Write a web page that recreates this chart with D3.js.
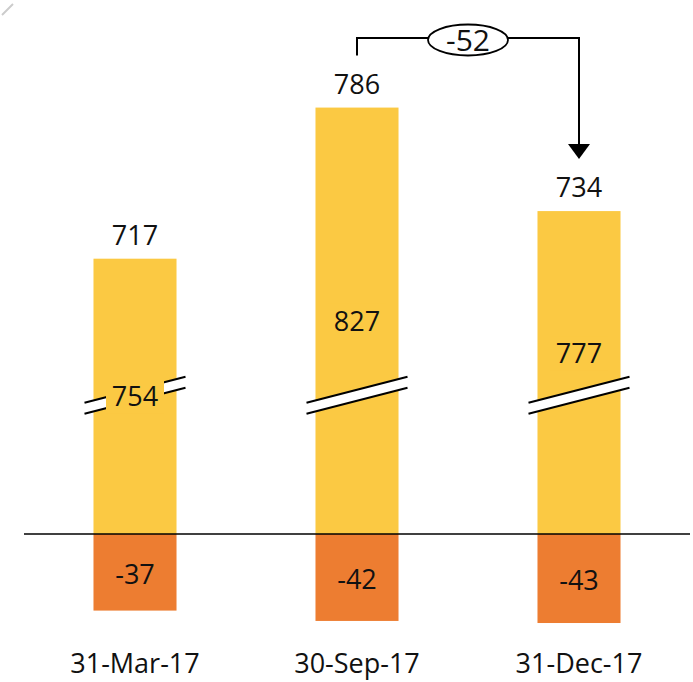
<html>
<head>
<script src="https://d3js.org/d3.v7.min.js"></script>
<style>
  body { margin: 0; background: #fff; }
  svg text { font-family: "Open Sans", "Noto Sans", sans-serif; fill: #111; font-size: 27px; }
</style>
</head>
<body>
<script>
// data
var categories = ["31-Mar-17", "30-Sep-17", "31-Dec-17"];
var positives = [754, 827, 777];
var negatives = [-37, -42, -43];
var totals = [717, 786, 734];
var change = -52;          // 31-Dec-17 vs 30-Sep-17
var axisCut = 621;         // positive part is drawn above this value
var breakValue = 688;      // where the broken-axis mark sits

var width = 693, height = 682;
var yellow = "#FBC943", orange = "#ED7D31";

var svg = d3.select("body").append("svg")
    .attr("width", width)
    .attr("height", height);

var x = d3.scaleBand()
    .domain(categories)
    .range([24, 690])
    .paddingInner(0.626)
    .paddingOuter(0.313);

var y = d3.scaleLinear()
    .domain([-50, 250])
    .range([534 + 50 * 2.07, 534 - 250 * 2.07]);

var rows = categories.map(function (c, i) {
    return { cat: c, pos: positives[i], neg: negatives[i], total: totals[i] };
});

function posTop(d) { return y(d.pos - axisCut); }
function cx(d) { return x(d.cat) + x.bandwidth() / 2; }
var breakY = y(breakValue - axisCut);

// faint mark in corner
svg.append("line")
    .attr("x1", 2).attr("y1", 15).attr("x2", 13).attr("y2", 4)
    .style("stroke", "#ccc").style("stroke-width", 2);

var g = svg.selectAll(".bar").data(rows).enter().append("g").attr("class", "bar");

g.append("rect")
    .attr("x", function (d) { return x(d.cat); })
    .attr("y", posTop)
    .attr("width", x.bandwidth())
    .attr("height", function (d) { return y(0) - posTop(d); })
    .style("fill", yellow);

g.append("rect")
    .attr("x", function (d) { return x(d.cat); })
    .attr("y", y(0))
    .attr("width", x.bandwidth())
    .attr("height", function (d) { return y(d.neg) - y(0); })
    .style("fill", orange);

// broken axis marks
var bw = x.bandwidth() / 2 + 9, rise = 13, gap = 5.5;
g.each(function (d) {
    var c = cx(d), cy = breakY;
    var sel = d3.select(this);
    sel.append("path")
        .attr("d", "M" + (c - bw) + "," + (cy + rise - gap) +
            "L" + (c + bw) + "," + (cy - rise - gap) +
            "L" + (c + bw) + "," + (cy - rise + gap) +
            "L" + (c - bw) + "," + (cy + rise + gap) + "Z")
        .style("fill", "#fff");
    [-gap, gap].forEach(function (o) {
        sel.append("line")
            .attr("x1", c - bw).attr("y1", cy + rise + o)
            .attr("x2", c + bw).attr("y2", cy - rise + o)
            .style("stroke", "#000").style("stroke-width", 2);
    });
});

// positive labels (with bar-coloured box); nudged above the break if they only half overlap it
g.each(function (d) {
    var c = cx(d);
    var cy = (posTop(d) + y(0)) / 2;
    var off = Math.abs(cy - breakY);
    if (off > 8 && off < 40) cy = breakY - 42;
    var sel = d3.select(this);
    sel.append("rect")
        .attr("x", c - 29).attr("y", cy - 17)
        .attr("width", 58).attr("height", 34)
        .style("fill", yellow);
    sel.append("text")
        .attr("x", c).attr("y", cy)
        .attr("text-anchor", "middle").attr("dy", "0.36em")
        .text(d.pos);
});

g.append("text")
    .attr("x", cx)
    .attr("y", function (d) { return (y(0) + y(d.neg)) / 2 + 2; })
    .attr("text-anchor", "middle").attr("dy", "0.36em")
    .text(function (d) { return d.neg; });

g.append("text")
    .attr("x", cx)
    .attr("y", function (d) { return posTop(d) - 14; })
    .attr("text-anchor", "middle")
    .text(function (d) { return d.total; });

g.append("text")
    .attr("x", cx)
    .attr("y", 673)
    .attr("text-anchor", "middle")
    .text(function (d) { return d.cat; });

// baseline
svg.append("line")
    .attr("x1", 24).attr("x2", 690)
    .attr("y1", y(0)).attr("y2", y(0))
    .style("stroke", "#000").style("stroke-width", 1.3);

// difference arrow between last two totals
var xa = cx(rows[1]),
    xb = cx(rows[2]),
    topY = 38,
    startY = posTop(rows[1]) - 52,
    endY = posTop(rows[2]) - 52;
svg.append("path")
    .attr("d", "M" + xa + "," + startY + "V" + topY + "H" + xb + "V" + (endY - 14))
    .style("fill", "none").style("stroke", "#000").style("stroke-width", 2);
svg.append("path")
    .attr("d", "M" + (xb - 11) + "," + (endY - 15) + "L" + (xb + 11) + "," + (endY - 15) + "L" + xb + "," + endY + "Z")
    .style("fill", "#000");
var ex = (xa + xb) / 2;
svg.append("ellipse")
    .attr("cx", ex).attr("cy", 40).attr("rx", 40).attr("ry", 15.5)
    .style("fill", "#fff").style("stroke", "#000").style("stroke-width", 1.8);
svg.append("text")
    .attr("x", ex).attr("y", 40).attr("dy", "0.36em")
    .attr("text-anchor", "middle")
    .style("font-size", "30px")
    .text(change);
</script>
</body>
</html>
